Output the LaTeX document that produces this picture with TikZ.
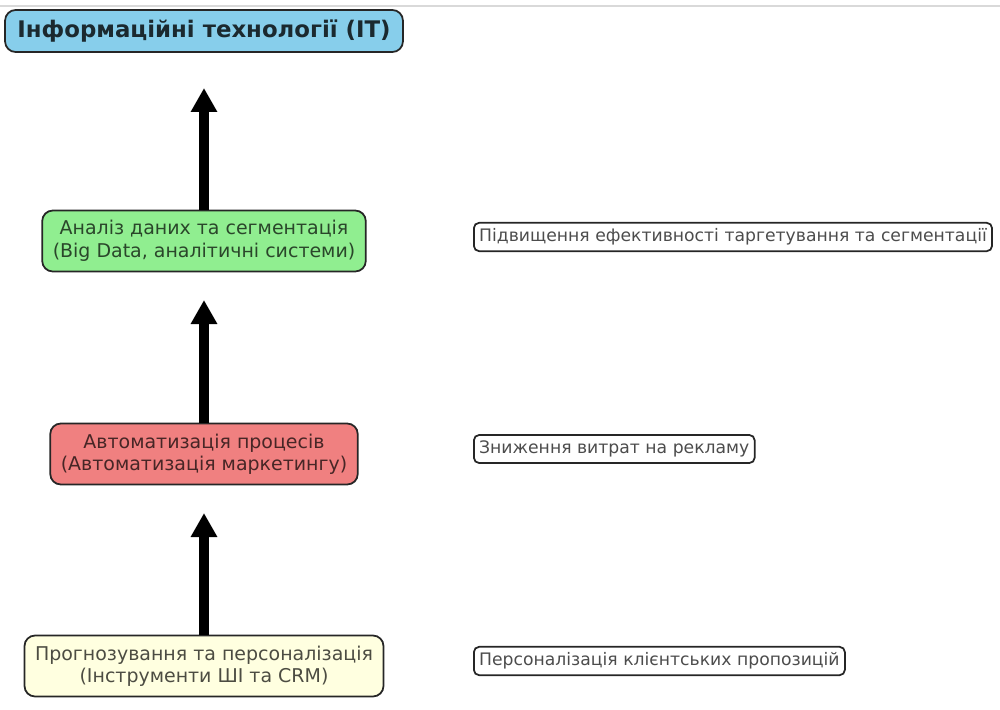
\documentclass[tikz,border=0pt]{standalone}
\usepackage{fontspec}
\setmainfont{DejaVu Sans}
\usepackage{xcolor}
\usepackage{tikz}
\usetikzlibrary{positioning}
\usetikzlibrary{arrows.meta,shapes}
\usetikzlibrary{calc}
\definecolor{skyblue}{HTML}{87CEEB}
\definecolor{lightgreen}{HTML}{90EE90}
\definecolor{lightcoral}{HTML}{F08080}
\definecolor{lightyellow}{HTML}{FFFFE0}
\tikzstyle{techbox}=[rectangle,rounded corners=6pt,draw=black!85,line width=1pt,align=center,inner xsep=6pt,minimum height=1.22cm,font=\fontsize{10.8}{12.8}\selectfont,text opacity=0.7]
\tikzstyle{titlebox}=[rectangle,rounded corners=6pt,draw=black!85,line width=1pt,fill=skyblue,inner xsep=7pt,minimum height=0.84cm,font=\fontsize{13}{15}\selectfont\bfseries,text opacity=0.8]
\tikzstyle{effectbox}=[rectangle,rounded corners=3pt,draw=black!85,line width=1pt,fill=white,inner xsep=3pt,minimum height=0.5cm,font=\fontsize{9.8}{11.5}\selectfont,text opacity=0.7]
\tikzstyle{uparrow} = [draw,line width=5.4pt,-{Triangle[width=0.5cm,length=0.48cm]}]

\begin{document}
\begin{tikzpicture}

  \def\u{0.02};

  \useasboundingbox (0,0) rectangle (1000*\u, -709*\u);
  \draw[black!15, line width=1pt] (0, -6*\u) -- (1000*\u, -6*\u);

  \node[titlebox] (it) at (204*\u, -31*\u) {Інформаційні технології (IT)};

   \foreach \y/\name/\col/\label in {241/analysis/lightgreen/{Аналіз даних та сегментація\\(Big Data, аналітичні системи)},
                                     454/automation/lightcoral/{Автоматизація процесів\\(Автоматизація маркетингу)},
                                     666/forecast/lightyellow/{Прогнозування та персоналізація\\(Інструменти ШІ та CRM)}}
          \node[techbox, fill=\col] (\name) at (204*\u, -\y*\u) {\label};

   \foreach \y/\name/\label in {237/eff1/{Підвищення ефективності таргетування та сегментації},
                                449/eff2/{Зниження витрат на рекламу},
                                661/eff3/{Персоналізація клієнтських пропозицій}}
          \node[effectbox, anchor=west] (\name) at (473*\u, -\y*\u) {\label};

   \foreach \y/\name in {88/tip1, 300/tip2, 513/tip3}
          \coordinate (\name) at (204*\u, -\y*\u);

  \foreach \source/ \dest in {analysis/tip1, automation/tip2, forecast/tip3}
         \path[uparrow] (\source.north) -- (\dest);

\end{tikzpicture}
\end{document}
